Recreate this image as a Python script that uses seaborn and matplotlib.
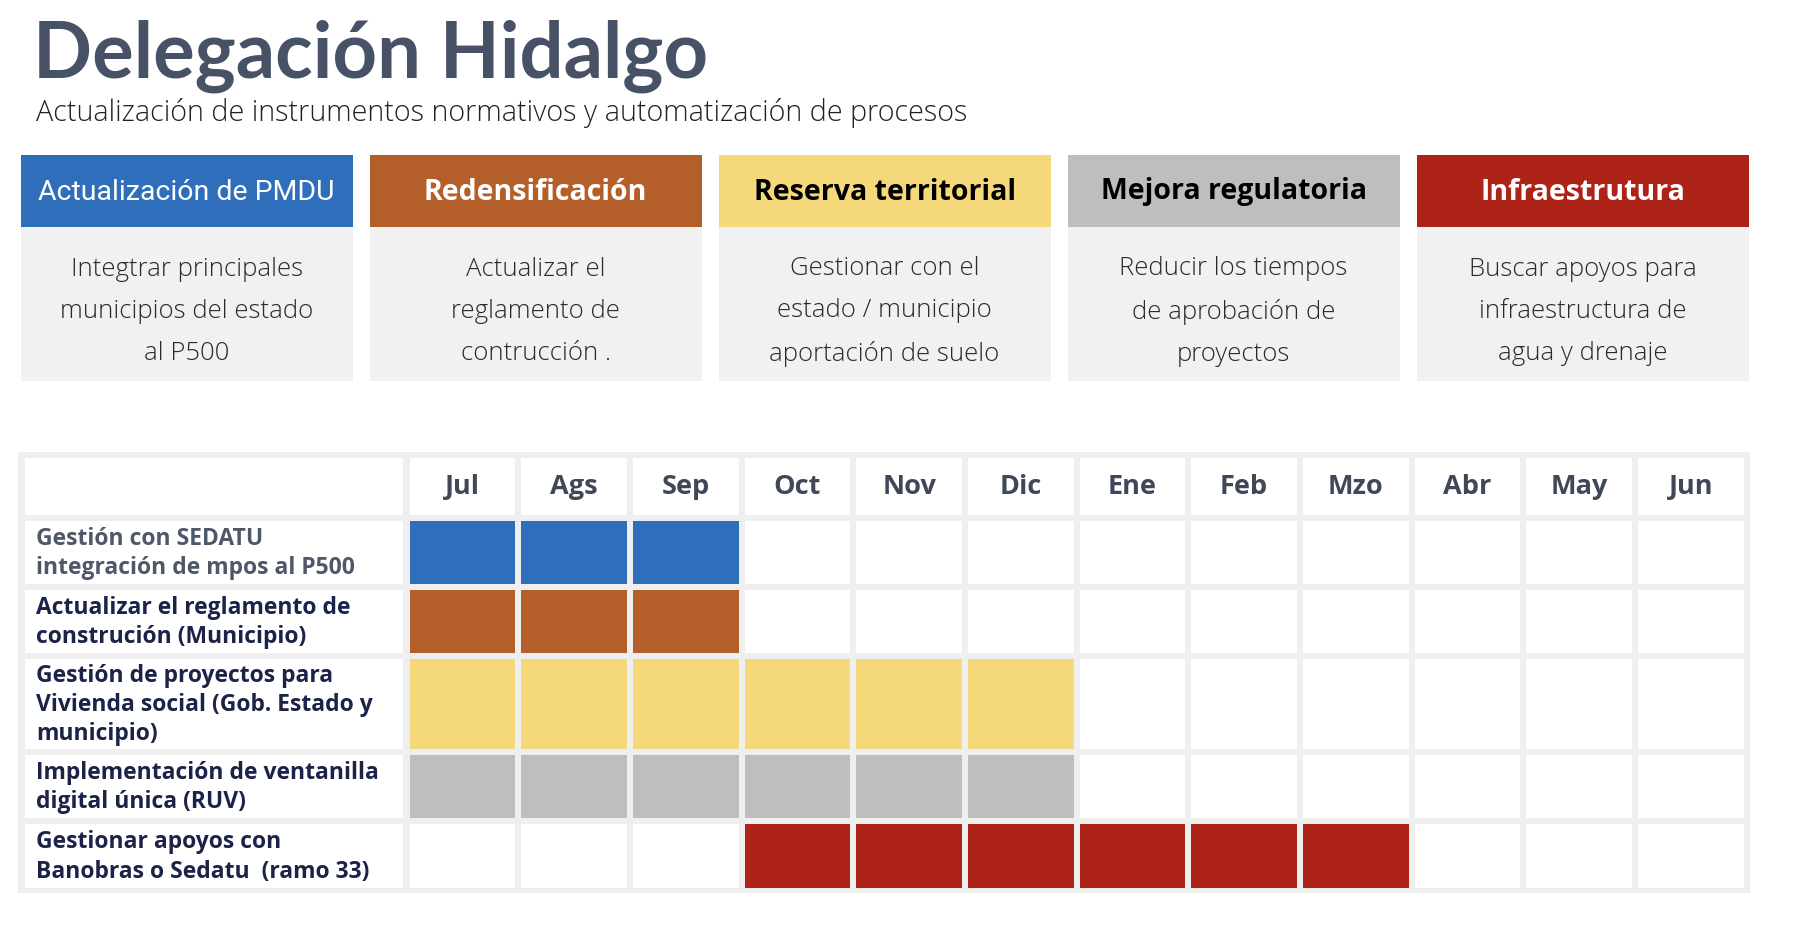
import numpy as np
import matplotlib
matplotlib.use("Agg")
import matplotlib.pyplot as plt
from matplotlib.colors import ListedColormap
from matplotlib.patches import Rectangle
import seaborn as sns

sns.set_theme(style="white")
plt.rcParams["font.family"] = ["Open Sans", "DejaVu Sans"]

# --- data ---
title = "Delegación Hidalgo"
subtitle = "Actualización de instrumentos normativos y automatización de procesos"

categories = ["Actualización de PMDU", "Redensificación", "Reserva territorial",
              "Mejora regulatoria", "Infraestrutura"]
category_desc = [
    "Integtrar principales\nmunicipios del estado\nal P500",
    "Actualizar el\nreglamento de\ncontrucción .",
    "Gestionar con el\nestado / municipio\naportación de suelo",
    "Reducir los tiempos\nde aprobación de\nproyectos",
    "Buscar apoyos para\ninfraestructura de\nagua y drenaje",
]
category_colors = ["#2F6EBA", "#B45F29", "#F5D87A", "#BEBEBE", "#AE2318"]
header_text_colors = ["white", "white", "black", "black", "white"]

months = ["Jul", "Ags", "Sep", "Oct", "Nov", "Dic",
          "Ene", "Feb", "Mzo", "Abr", "May", "Jun"]
tasks = [
    "Gestión con SEDATU\nintegración de mpos al P500",
    "Actualizar el reglamento de\nconstrución (Municipio)",
    "Gestión de proyectos para\nVivienda social (Gob. Estado y\nmunicipio)",
    "Implementación de ventanilla\ndigital única (RUV)",
    "Gestionar apoyos con\nBanobras o Sedatu  (ramo 33)",
]
task_start = [0, 0, 0, 0, 3]      # index into months
task_length = [3, 3, 6, 6, 6]     # number of months
task_label_colors = ["#4F5868", "#1C2348", "#1C2348", "#1C2348", "#1C2348"]

# --- layout (pixels) ---
W, H = 1794, 928
fig = plt.figure(figsize=(W / 100, H / 100), dpi=100)
fig.patch.set_facecolor("white")
bg = fig.add_axes([0, 0, 1, 1])
bg.set_xlim(0, W)
bg.set_ylim(H, 0)
bg.axis("off")


def fig_rect(x0, y0, x1, y1):
    return [x0 / W, 1 - y1 / H, (x1 - x0) / W, (y1 - y0) / H]


bg.text(33, 78, title, fontsize=56, fontweight="bold", color="#475266",
        va="baseline", ha="left", family=["Lato", "DejaVu Sans"])
bg.text(36, 113.5, subtitle, fontsize=20.7, color="#222222", va="center",
        ha="left", fontweight="light")

# category cards
for i, cat in enumerate(categories):
    x0 = 20.6 + i * 349.0
    x1 = x0 + 332
    bg.add_patch(Rectangle((x0, 228), x1 - x0, 154, facecolor="#F1F1F1", lw=0))
    bg.add_patch(Rectangle((x0, 156), x1 - x0, 72, facecolor=category_colors[i], lw=0))
    if i == 0:
        bg.text((x0 + x1) / 2, 193, cat, fontsize=20.5, color=header_text_colors[i],
                ha="center", va="center", family=["Roboto", "DejaVu Sans"])
    else:
        bg.text((x0 + x1) / 2, 192, cat, fontsize=20.5, fontweight="bold",
                color=header_text_colors[i], ha="center", va="center")
    bg.text((x0 + x1) / 2, 311.5, category_desc[i], fontsize=18.5, color="#2A2A2A",
            ha="center", va="center", linespacing=1.9, fontweight="light")

# gantt table
grid_color = "#EFEFEF"
bg.add_patch(Rectangle((18, 453), 1750 - 18, 894 - 453, facecolor=grid_color, lw=0))

row_edges = [456, 519, 588, 657, 753, 822, 892]
gx0, gx1 = 406.6, 1746.6

for r in range(len(row_edges) - 1):
    y0, y1 = row_edges[r], row_edges[r + 1]
    bg.add_patch(Rectangle((24.5, y0 + 3), 403 - 24.5, (y1 - y0) - 6,
                           facecolor="white", lw=0))
    ax = fig.add_axes(fig_rect(gx0, y0, gx1, y1))
    if r == 0:
        values = np.zeros((1, len(months)))
        cmap = ListedColormap(["white", "white"])
    else:
        t = r - 1
        values = np.zeros((1, len(months)))
        values[0, task_start[t]:task_start[t] + task_length[t]] = 1
        cmap = ListedColormap(["white", category_colors[t]])
    sns.heatmap(values, ax=ax, cmap=cmap, vmin=0, vmax=1, cbar=False,
                linewidths=4.3, linecolor=grid_color,
                xticklabels=False, yticklabels=False)
    ax.set_xlabel("")
    ax.set_ylabel("")
    if r == 0:
        for j, m in enumerate(months):
            ax.text(j + 0.5, 0.5, m, ha="center", va="center", fontsize=19.5,
                    fontweight="bold", color="#3F4759")
    else:
        t = r - 1
        bg.text(36.5, (y0 + y1) / 2, tasks[t], ha="left", va="center",
                fontsize=16.5, fontweight="bold", color=task_label_colors[t],
                linespacing=1.3)

fig.savefig("out.png", dpi=100, facecolor="white")
